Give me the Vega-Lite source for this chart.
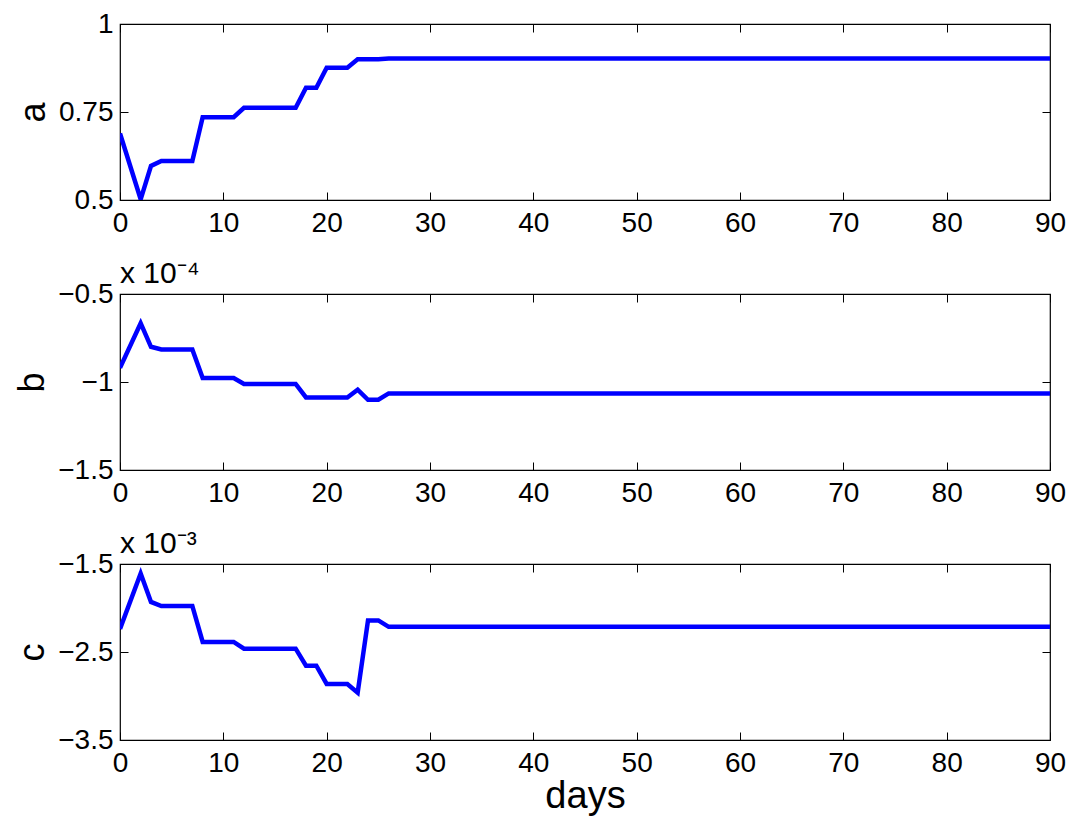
{
  "$schema": "https://vega.github.io/schema/vega-lite/v6.json",
  "background": "white",
  "padding": {"left": 14, "top": 9, "right": 5, "bottom": 5},
  "bounds": "flush",
  "spacing": 94,
  "config": {
    "font": "Liberation Sans",
    "view": {"stroke": "black", "strokeWidth": 1.2},
    "axis": {
      "grid": false,
      "domain": false,
      "tickColor": "black",
      "tickSize": -8,
      "tickWidth": 1,
      "labelFontSize": 28,
      "labelColor": "black",
      "labelFlush": false,
      "labelPadding": 15,
      "titleFontSize": 36,
      "titleFontWeight": "normal",
      "titleColor": "black"
    }
  },
  "datasets": {
    "series": [
      {"day": 0, "a": 0.689, "b": -0.92, "c": -2.237},
      {"day": 2, "a": 0.502, "b": -0.666, "c": -1.607},
      {"day": 3, "a": 0.597, "b": -0.80, "c": -1.931},
      {"day": 4, "a": 0.611, "b": -0.815, "c": -1.977},
      {"day": 5, "a": 0.611, "b": -0.815, "c": -1.977},
      {"day": 6, "a": 0.611, "b": -0.815, "c": -1.977},
      {"day": 7, "a": 0.611, "b": -0.815, "c": -1.977},
      {"day": 8, "a": 0.735, "b": -0.977, "c": -2.385},
      {"day": 9, "a": 0.735, "b": -0.977, "c": -2.385},
      {"day": 10, "a": 0.735, "b": -0.977, "c": -2.385},
      {"day": 11, "a": 0.735, "b": -0.977, "c": -2.385},
      {"day": 12, "a": 0.762, "b": -1.011, "c": -2.462},
      {"day": 13, "a": 0.762, "b": -1.011, "c": -2.462},
      {"day": 14, "a": 0.762, "b": -1.011, "c": -2.462},
      {"day": 15, "a": 0.762, "b": -1.011, "c": -2.462},
      {"day": 16, "a": 0.762, "b": -1.011, "c": -2.462},
      {"day": 17, "a": 0.762, "b": -1.011, "c": -2.462},
      {"day": 18, "a": 0.819, "b": -1.088, "c": -2.656},
      {"day": 19, "a": 0.819, "b": -1.088, "c": -2.656},
      {"day": 20, "a": 0.876, "b": -1.088, "c": -2.863},
      {"day": 21, "a": 0.876, "b": -1.088, "c": -2.863},
      {"day": 22, "a": 0.876, "b": -1.088, "c": -2.863},
      {"day": 23, "a": 0.900, "b": -1.044, "c": -2.962},
      {"day": 24, "a": 0.900, "b": -1.101, "c": -2.141},
      {"day": 25, "a": 0.900, "b": -1.101, "c": -2.141},
      {"day": 26, "a": 0.902, "b": -1.065, "c": -2.214},
      {"day": 90, "a": 0.902, "b": -1.065, "c": -2.214}
    ]
  },
  "vconcat": [
    {
      "width": 930, "height": 176,
      "data": {"name": "series"},
      "resolve": {"axis": {"x": "independent", "y": "independent"}},
      "layer": [
        {
          "mark": {"type": "line", "color": "#0000ff", "strokeWidth": 4.5, "clip": true},
          "encoding": {
            "x": {"field": "day", "type": "quantitative", "scale": {"domain": [0, 90], "nice": false},
                  "axis": {"values": [0,10,20,30,40,50,60,70,80,90], "title": null, "labelPadding": 17}},
            "y": {"field": "a", "type": "quantitative", "scale": {"domain": [0.5, 1], "nice": false, "zero": false},
                  "axis": {"values": [0.5, 0.75, 1], "format": ".2~f", "title": "a", "titlePadding": 6}}
          }
        },
        {
          "mark": {"type": "line", "strokeOpacity": 0},
          "encoding": {
            "x": {"field": "day", "type": "quantitative", "axis": {"orient": "top", "labels": false, "values": [0,10,20,30,40,50,60,70,80,90], "title": null}},
            "y": {"field": "a", "type": "quantitative", "axis": {"orient": "right", "labels": false, "values": [0.5, 0.75, 1], "title": null}}
          }
        }
      ]
    },
    {
      "width": 930, "height": 176,
      "title": {"text": "x 10⁻⁴", "frame": "group", "anchor": "start", "offset": -9, "fontSize": 30, "fontWeight": "normal", "color": "black", "font": "Liberation Sans"},
      "data": {"name": "series"},
      "resolve": {"axis": {"x": "independent", "y": "independent"}},
      "layer": [
        {
          "mark": {"type": "line", "color": "#0000ff", "strokeWidth": 4.5, "clip": true},
          "encoding": {
            "x": {"field": "day", "type": "quantitative", "scale": {"domain": [0, 90], "nice": false},
                  "axis": {"values": [0,10,20,30,40,50,60,70,80,90], "title": null, "labelPadding": 17}},
            "y": {"field": "b", "type": "quantitative", "scale": {"domain": [-1.5, -0.5], "nice": false, "zero": false},
                  "axis": {"values": [-1.5, -1, -0.5], "format": ".2~f", "title": "b", "titlePadding": 6}}
          }
        },
        {
          "mark": {"type": "line", "strokeOpacity": 0},
          "encoding": {
            "x": {"field": "day", "type": "quantitative", "axis": {"orient": "top", "labels": false, "values": [0,10,20,30,40,50,60,70,80,90], "title": null}},
            "y": {"field": "b", "type": "quantitative", "axis": {"orient": "right", "labels": false, "values": [-1.5, -1, -0.5], "title": null}}
          }
        }
      ]
    },
    {
      "width": 930, "height": 176,
      "title": {"text": "x 10⁻³", "frame": "group", "anchor": "start", "offset": -9, "fontSize": 30, "fontWeight": "normal", "color": "black", "font": "Liberation Sans"},
      "data": {"name": "series"},
      "resolve": {"axis": {"x": "independent", "y": "independent"}},
      "layer": [
        {
          "mark": {"type": "line", "color": "#0000ff", "strokeWidth": 4.5, "clip": true},
          "encoding": {
            "x": {"field": "day", "type": "quantitative", "scale": {"domain": [0, 90], "nice": false},
                  "axis": {"values": [0,10,20,30,40,50,60,70,80,90], "title": "days", "labelPadding": 17, "titlePadding": 0, "titleFontSize": 38}},
            "y": {"field": "c", "type": "quantitative", "scale": {"domain": [-3.5, -1.5], "nice": false, "zero": false},
                  "axis": {"values": [-3.5, -2.5, -1.5], "format": ".2~f", "title": "c", "titlePadding": 6}}
          }
        },
        {
          "mark": {"type": "line", "strokeOpacity": 0},
          "encoding": {
            "x": {"field": "day", "type": "quantitative", "axis": {"orient": "top", "labels": false, "values": [0,10,20,30,40,50,60,70,80,90], "title": null}},
            "y": {"field": "c", "type": "quantitative", "axis": {"orient": "right", "labels": false, "values": [-3.5, -2.5, -1.5], "title": null}}
          }
        }
      ]
    }
  ]
}
